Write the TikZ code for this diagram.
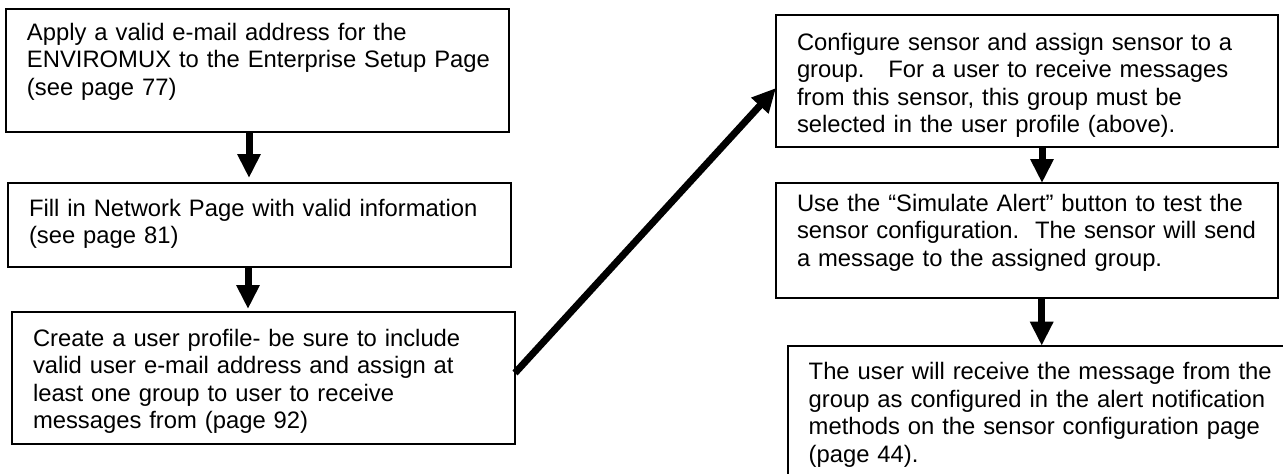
\documentclass[tikz,border=0pt]{standalone}
\usepackage{fontspec}
\setmainfont{Liberation Sans}
\usetikzlibrary{arrows.meta}

\tikzset{
  stepbox/.style={draw, line width=1.8pt, anchor=north west, align=left,
    inner xsep=21pt, inner ysep=0pt, outer sep=0pt,
    font=\fontsize{23.8}{27.5}\selectfont},
  flowarrow/.style={line width=7pt, -{Triangle[length=24pt,width=22pt]}}
}

\begin{document}
\begin{tikzpicture}[x=1pt,y=-1pt]
  \useasboundingbox (0,0) rectangle (1283,474);
  % left column
  \node[stepbox, text width=461pt, text height=31pt, text depth=92pt] (apply) at (6,9)
    {Apply a valid e-mail address for the\\\mbox{ENVIROMUX to the Enterprise Setup Page}\\(see page 77)};
  \node[stepbox, text width=461pt, text height=33pt, text depth=51pt] (fill) at (8,183)
    {Fill in Network Page with valid information\\(see page 81)};
  \node[stepbox, text width=461pt, text height=34pt, text depth=98pt] (create) at (12,312)
    {Create a user profile- be sure to include\\valid user e-mail address and assign at\\least one group to user to receive\\messages from (page 92)};
  % right column
  \node[stepbox, text width=460pt, text height=35pt, text depth=97pt] (configure) at (776,15)
    {Configure sensor and assign sensor to a\\group.\ \ \ For a user to receive messages\\from this sensor, this group must be\\selected in the user profile (above).};
  \node[stepbox, text width=460pt, text height=28pt, text depth=87pt] (simulate) at (776,183)
    {Use the “Simulate Alert” button to test the\\sensor configuration.\ \ The sensor will send\\a message to the assigned group.};
  \node[stepbox, text width=466pt, text height=34pt, text depth=140pt] (receive) at (787.7,345.7)
    {The user will receive the message from the\\group as configured in the alert notification\\methods on the sensor configuration page\\(page 44).};

  \draw[flowarrow, shorten >=5pt] ([xshift=-8.5pt]apply.south) -- ([xshift=-10.5pt]fill.north);
  \draw[flowarrow, shorten >=3pt] ([xshift=-11.5pt]fill.south) -- ([xshift=-15.5pt]create.north);
  \draw[flowarrow] ([yshift=5pt]create.east) -- ([yshift=-7pt]configure.west);
  \draw[flowarrow] ([xshift=15pt]configure.south) -- ([xshift=15pt]simulate.north);
  \draw[flowarrow] ([xshift=14.7pt]simulate.south) -- (receive.north);
\end{tikzpicture}
\end{document}
